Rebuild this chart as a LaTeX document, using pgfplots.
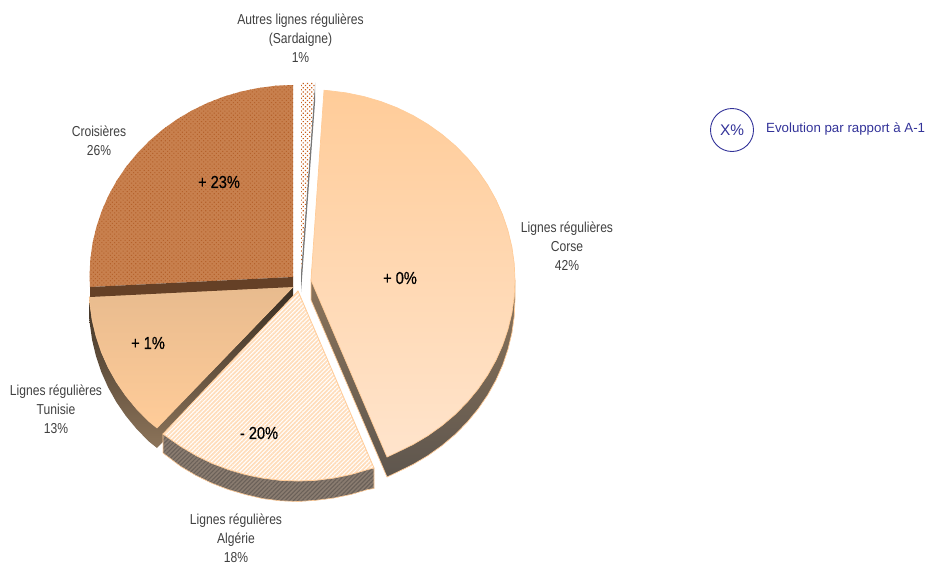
\documentclass[border=0pt]{standalone}
\usepackage{fontspec}
\setmainfont[FakeStretch=0.84]{Liberation Sans}
\newfontfamily\arial{Liberation Sans}
\newfontfamily\valfont[FakeStretch=0.84,FakeBold=0.5]{Liberation Sans}
\usepackage{pgfplots}
\usetikzlibrary{patterns.meta}
\pgfplotsset{compat=1.18}
\definecolor{edge}{HTML}{FFCC99}
\definecolor{lbl}{HTML}{404040}
\definecolor{navy}{HTML}{333399}
\definecolor{walltop}{HTML}{3A2E22}
\definecolor{wallmid}{HTML}{8C745A}
\definecolor{wallend}{HTML}{5E564E}
\definecolor{tunistop}{HTML}{E8BB8E}
\definecolor{corsebot}{HTML}{FFE4CC}
\definecolor{cruise}{HTML}{C8804E}
\definecolor{cruisedot}{HTML}{B5622C}
\definecolor{cruisewall}{HTML}{654026}
\definecolor{algwall}{HTML}{8A7C70}
\definecolor{algwallline}{HTML}{6A6058}
\definecolor{algline}{HTML}{FFDDBB}
\definecolor{sardwall}{HTML}{777777}
\definecolor{sarddot}{HTML}{C8601E}
\tikzset{
  lab/.style={align=center, text=lbl, inner sep=0pt, font=\fontsize{14.4}{19}\selectfont},
  val/.style={inner sep=0pt, text=black, font=\valfont\fontsize{17.4}{19}\selectfont},
}

% wedge outlines, picture pixels (y downwards)
\pgfplotstableread{
x y
311 280
324 90.3
328.8 90.7
346.4 92.9
363.8 96.5
380.8 101.5
397.2 107.8
413 115.5
428 124.4
442.1 134.5
455.2 145.6
467.3 157.9
478.1 171
487.7 185
495.9 199.7
502.7 215
508 230.8
511.9 247
514.2 263.4
515 280
514.2 296.6
511.9 313
508 329.2
502.7 345
495.9 360.3
487.7 375
478.1 389
467.3 402.1
455.2 414.4
442.1 425.5
428 435.6
413 444.5
397.2 452.2
387 457
}\corse
\pgfplotstableread{
x y
311 280
311 300
387 477
397.2 472.2
413 464.5
428 455.6
442.1 445.5
455.2 434.4
467.3 422.1
478.1 409
487.7 395
495.9 380.3
502.7 365
508 349.2
511.9 333
514.2 316.6
515 300
515 280
}\corsewall
\pgfplotstableread{
x y
298 291
374 468
367.8 469.5
350.8 474.5
333.4 478.1
315.8 480.3
298 481
280.2 480.3
262.6 478.1
245.2 474.5
228.2 469.5
211.8 463.2
196 455.5
181 446.6
163 434
}\algerie
\pgfplotstableread{
x y
374 468
374 488.5
367.8 489.5
350.8 494.5
333.4 498.1
315.8 500.3
298 501.5
280.2 500.8
262.6 498.6
245.2 494.5
228.2 489.5
211.8 483.2
196 475.5
181 466.6
163 453
163 434
}\algeriewall
\pgfplotstableread{
x y
293 287
89.2 297
89.8 303.6
92.1 320
96 336.2
101.3 352
108.1 367.3
116.3 382
125.9 396
136.7 409.1
148.8 421.4
157 428
}\tunisie
\pgfplotstableread{
x y
293 287
293 307
157 448
148.8 441.4
136.7 429.1
125.9 416
116.3 402
108.1 387.3
101.3 372
96 356.2
92.1 340
89.8 323.6
89 317
89.2 297
}\tunisiewall
\pgfplotstableread{
x y
293 277
90 287
89.5 276
90.3 259.3
92.6 242.8
96.5 226.5
101.8 210.7
108.6 195.3
116.8 180.5
126.4 166.4
137.2 153.3
149.3 140.9
162.4 129.7
176.5 119.6
191.5 110.7
207.3 103
223.7 96.6
240.7 91.6
258.1 88
275.7 85.7
293 85
}\croisieres
\pgfplotstableread{
x y
293 277
293 287
90 297
90 287
}\croisiereswall
\pgfplotstableread{
x y
301 272
301 82
315 82.5
}\sardaigne
\pgfplotstableread{
x y
315 82.5
301 272
301 292
315 102.5
}\sardaignewall

\begin{document}
\begin{tikzpicture}
\useasboundingbox (0,0) rectangle (937pt,565pt);
\begin{axis}[
  at={(0,0)}, anchor=south west,
  scale only axis, width=937pt, height=565pt,
  xmin=0, xmax=937, ymin=0, ymax=565,
  y dir=reverse, hide axis,
]
  % Tunisie
  \addplot[draw=none, top color=walltop, bottom color=wallmid] table {\tunisiewall} -- cycle;
  \addplot[draw=edge, line width=0.5pt, top color=tunistop, bottom color=edge] table {\tunisie} -- cycle;
  % Croisieres
  \addplot[draw=none, fill=cruise] table {\croisieres} -- cycle;
  \addplot[draw=none, pattern={Dots[distance=3pt,radius=0.75pt,angle=45]}, pattern color=cruisedot] table {\croisieres} -- cycle;
  \addplot[draw=none, fill=cruisewall] table {\croisiereswall} -- cycle;
  % Algerie
  \addplot[draw=none, fill=algwall] table {\algeriewall} -- cycle;
  \addplot[draw=edge, line width=0.6pt, pattern={Lines[angle=45,distance=3pt,line width=1.1pt]}, pattern color=algwallline] table {\algeriewall} -- cycle;
  \addplot[draw=none, fill=white] table {\algerie} -- cycle;
  \addplot[draw=edge, line width=0.8pt, pattern={Lines[angle=45,distance=3pt,line width=1.75pt]}, pattern color=algline] table {\algerie} -- cycle;
  % Corse
  \addplot[draw=edge, line width=0.7pt, top color=wallmid, bottom color=wallend] table {\corsewall} -- cycle;
  \addplot[draw=edge, line width=0.7pt, top color=edge, bottom color=corsebot] table {\corse} -- cycle;
  % Sardaigne
  \addplot[draw=none, fill=sardwall] table {\sardaignewall} -- cycle;
  \addplot[draw=none, fill=white] table {\sardaigne} -- cycle;
  \addplot[draw=none, pattern={Dots[distance=3pt,radius=0.85pt,angle=45]}, pattern color=sarddot] table {\sardaigne} -- cycle;
  % legend circle
  \addplot[only marks, mark=o, mark size=21.5pt, mark options={draw=navy, line width=0.9pt}] coordinates {(732,130)};

  \node[lab] at (axis cs:300.5,38) {Autres lignes régulières\\(Sardaigne)\\1\%};
  \node[lab] at (axis cs:567,246) {Lignes régulières\\Corse\\42\%};
  \node[lab] at (axis cs:99,140.5) {Croisières\\26\%};
  \node[lab] at (axis cs:56,409) {Lignes régulières\\Tunisie\\13\%};
  \node[lab] at (axis cs:236,538) {Lignes régulières\\Algérie\\18\%};
  \node[val] at (axis cs:219,182) {+ 23\%};
  \node[val] at (axis cs:400,278) {+ 0\%};
  \node[val] at (axis cs:148,343) {+ 1\%};
  \node[val] at (axis cs:259,433) {- 20\%};
  \node[inner sep=0pt, text=navy, font=\arial\fontsize{15.4}{17}\selectfont] at (axis cs:732,130) {X\%};
  \node[inner sep=0pt, text=navy, anchor=west, font=\arial\fontsize{13.3}{15}\selectfont] at (axis cs:766,128.5) {Evolution par rapport à A-1};
\end{axis}
\end{tikzpicture}
\end{document}
